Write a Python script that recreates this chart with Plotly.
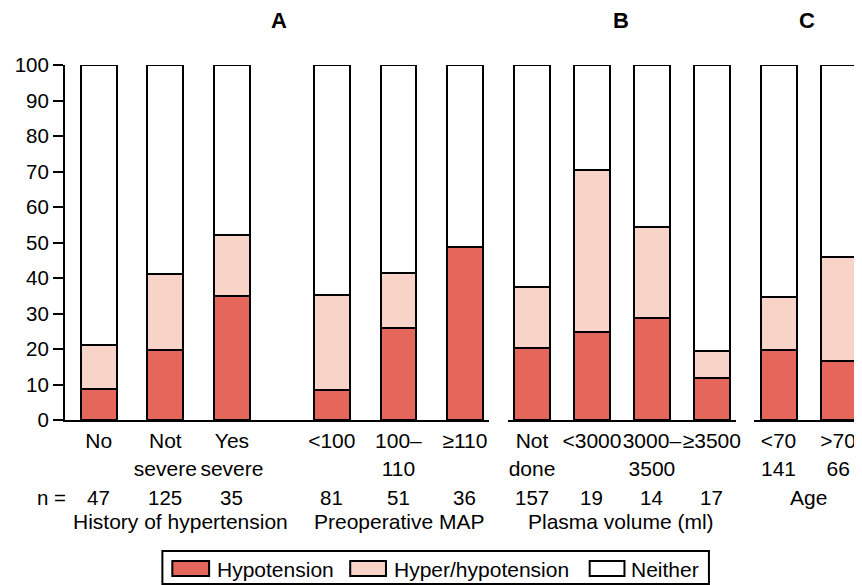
import plotly.graph_objects as go

# ---------------- data ----------------
panel_a_labels = ["No", "Not<br>severe", "Yes<br>severe", "<100", "100–<br>110", "≥110"]
panel_a_n = ["47", "125", "35", "81", "51", "36"]
panel_a_hypo = [8.8, 19.6, 35.0, 8.5, 25.8, 48.8]
panel_a_hyper = [12.2, 21.6, 17.0, 26.8, 15.7, 0.0]

panel_b_labels = ["Not<br>done", "<3000", "3000–<br>3500", "≥3500"]
panel_b_n = ["157", "19", "14", "17"]
panel_b_hypo = [20.2, 24.8, 28.6, 11.8]
panel_b_hyper = [17.3, 45.7, 25.8, 7.5]

panel_c_labels = ["<70<br>141", ">70<br>66"]
panel_c_hypo = [19.6, 16.6]
panel_c_hyper = [15.0, 29.2]

series_names = ["Hypotension", "Hyper/hypotension", "Neither"]
y_ticks = list(range(0, 101, 10))

# ---------------- style ----------------
COL_HYPO = "#E5665A"
COL_HYPER = "#F8D3C8"
COL_NEITHER = "#FFFFFF"
colors = [COL_HYPO, COL_HYPER, COL_NEITHER]
FONT = "Liberation Sans, Arial, Helvetica, sans-serif"
FS_NUM = 20.5
FS_TXT = 21

OFF = 8  # page body margin
W, H = 862 - OFF, 585 - OFF
# plot area in screen pixels
SX0, SX1, SY0, SY1 = 65, 862, 65, 420
ML, MR, MT = SX0 - OFF, 0, SY0 - OFF
MB = H - (SY1 - OFF)
PW = SX1 - SX0
PH = SY1 - SY0


def px2x(px):
    return (px - SX0) / PW


def py2y(py):
    return (SY1 - py) / PH


# slot positions (layout) for each panel
pos_a = [0, 1, 2, 3.5, 4.5, 5.5]
pos_b = [0, 1, 2, 3]
pos_c = [0, 1]

unit_a, unit_b, unit_c = 67.0, 60.3, 60.0
bar_px = 36.0

fig = go.Figure()


def add_panel(xaxis, pos, hypo, hyper, width):
    neither = [100 - a - b for a, b in zip(hypo, hyper)]
    for name, vals, col in zip(series_names, [hypo, hyper, neither], colors):
        fig.add_trace(go.Bar(
            x=pos, y=vals, name=name, xaxis=xaxis, yaxis="y",
            width=width, marker=dict(color=col, line=dict(color="black", width=2)),
            showlegend=False, hoverinfo="y+name",
        ))


add_panel("x", pos_a, panel_a_hypo, panel_a_hyper, bar_px / unit_a)
add_panel("x2", pos_b, panel_b_hypo, panel_b_hyper, bar_px / unit_b)
add_panel("x3", pos_c, panel_c_hypo, panel_c_hyper, bar_px / unit_c)

xcommon = dict(showline=True, linecolor="black", linewidth=2, ticks="outside", ticklen=1,
               tickcolor="rgba(0,0,0,0)", showgrid=False, tickangle=0,
               zeroline=False, tickfont=dict(size=FS_TXT, color="black", family=FONT),
               anchor="y", fixedrange=True)

fig.update_layout(
    width=W, height=H,
    margin=dict(l=ML, r=MR, t=MT, b=MB, pad=0),
    paper_bgcolor="white", plot_bgcolor="white",
    barmode="stack", bargap=0,
    font=dict(family=FONT, size=FS_TXT, color="black"),
    showlegend=False,
    xaxis=dict(domain=[px2x(65), px2x(492)], range=[-(99 - 65) / unit_a, (492 - 99) / unit_a],
               tickvals=pos_a, ticktext=panel_a_labels, **xcommon),
    xaxis2=dict(domain=[px2x(511), px2x(740)], range=[-(535 - 511) / unit_b, (740 - 535) / unit_b],
                tickvals=pos_b, ticktext=panel_b_labels, **xcommon),
    xaxis3=dict(domain=[px2x(758), 1.0], range=[-(783 - 758) / unit_c, (862 - 783) / unit_c],
                tickvals=pos_c, ticktext=panel_c_labels, **xcommon),
    yaxis=dict(range=[0, 100], tickvals=y_ticks, showline=True, linecolor="black", linewidth=2,
               ticks="outside", ticklen=10, tickwidth=2, tickcolor="black", showgrid=False,
               zeroline=False, anchor="x", tickfont=dict(size=FS_NUM, color="black", family=FONT),
               fixedrange=True),
)

ann = []
# n row
ann.append(dict(text="n =", xref="paper", yref="paper", x=px2x(51), y=py2y(497),
                showarrow=False, xanchor="center", yanchor="middle", font=dict(size=FS_NUM)))
for p, n in zip(pos_a, panel_a_n):
    ann.append(dict(text=n, xref="x", yref="paper", x=p, y=py2y(497), showarrow=False,
                    xanchor="center", yanchor="middle", font=dict(size=FS_NUM)))
for p, n in zip(pos_b, panel_b_n):
    ann.append(dict(text=n, xref="x2", yref="paper", x=p, y=py2y(497), showarrow=False,
                    xanchor="center", yanchor="middle", font=dict(size=FS_NUM)))
ann.append(dict(text="Age", xref="paper", yref="paper", x=px2x(813), y=py2y(497),
                showarrow=False, xanchor="center", yanchor="middle"))
# group titles
for txt, cx in [("History of hypertension", 181), ("Preoperative MAP", 401),
                ("Plasma volume (ml)", 625)]:
    ann.append(dict(text=txt, xref="paper", yref="paper", x=px2x(cx), y=py2y(521),
                    showarrow=False, xanchor="center", yanchor="middle"))
# panel letters
for txt, cx in [("A", 280), ("B", 625), ("C", 812)]:
    ann.append(dict(text="<b>" + txt + "</b>", xref="paper", yref="paper", x=px2x(cx),
                    y=py2y(21), showarrow=False, xanchor="center", yanchor="middle",
                    font=dict(size=22)))

# manual legend
shapes = [dict(type="rect", xref="paper", yref="paper", x0=px2x(163), x1=px2x(713),
               y0=py2y(551), y1=py2y(584), line=dict(color="black", width=2),
               fillcolor="white", layer="above")]
leg_items = [(173, 210, 216), (352, 388, 394), (593, 628, 633)]
for (sx0, sx1, tx), name, col in zip(leg_items, series_names, colors):
    shapes.append(dict(type="rect", xref="paper", yref="paper", x0=px2x(sx0), x1=px2x(sx1),
                       y0=py2y(561), y1=py2y(576), line=dict(color="black", width=2),
                       fillcolor=col, layer="above"))
    ann.append(dict(text=name, xref="paper", yref="paper", x=px2x(tx), y=py2y(569),
                    showarrow=False, xanchor="left", yanchor="middle"))

fig.update_layout(annotations=ann, shapes=shapes)
fig.write_html("out.html")
